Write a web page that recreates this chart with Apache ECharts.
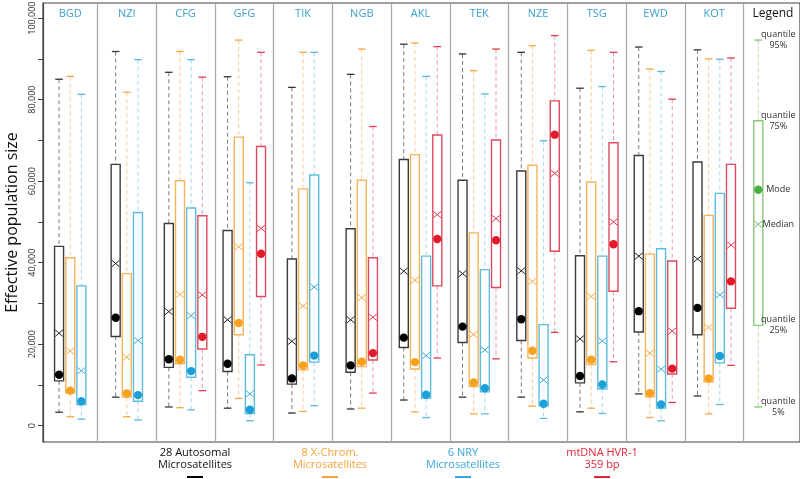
<html><head>
<meta charset="UTF-8">
<title>Effective population size</title>
<style>
  body { margin: 0; background: #fff; }
  #chart { width: 800px; height: 479px; }
</style>
</head>
<body>
<div id="chart"></div>
<script src="https://cdn.jsdelivr.net/npm/echarts@6/dist/echarts.min.js"></script>
<script>
// populations (panels)
const populations = ['BGD', 'NZI', 'CFG', 'GFG', 'TIK', 'NGB', 'AKL', 'TEK', 'NZE', 'TSG', 'EWD', 'KOT'];

// each row: [quantile 5%, quantile 25%, median, mode, quantile 75%, quantile 95%]
const autosomal = [
  [3300, 11000, 22700, 12500, 44000, 85000],
  [7000, 21900, 39800, 26500, 64100, 91800],
  [4600, 14300, 28000, 16300, 49600, 86700],
  [4300, 13300, 26000, 15200, 47900, 85600],
  [3100, 10200, 20700, 11600, 40900, 83000],
  [4100, 13100, 26000, 14800, 48300, 86200],
  [6300, 19200, 37900, 21600, 65300, 93600],
  [7000, 20400, 37300, 24300, 60200, 91200],
  [7000, 20900, 38000, 26100, 62500, 91600],
  [3400, 10500, 21300, 12200, 41700, 82800],
  [7800, 23000, 41600, 28100, 66300, 92900],
  [7300, 22300, 40900, 28900, 64700, 92200]
];
const xChrom = [
  [2200, 8000, 18300, 8600, 41200, 85700],
  [2200, 7000, 16800, 7900, 37300, 81800],
  [4400, 15200, 32200, 16200, 60100, 91800],
  [6700, 22300, 43900, 25200, 70800, 94600],
  [3500, 13700, 29400, 14800, 58100, 91600],
  [4300, 14500, 31400, 15700, 60200, 92400],
  [3400, 13900, 35700, 15600, 66500, 93900],
  [2900, 9600, 22400, 10600, 47300, 87100],
  [4800, 16600, 35400, 18400, 63900, 93200],
  [4300, 15000, 31700, 16200, 59800, 92100],
  [2000, 7100, 17800, 8000, 42100, 87500],
  [2900, 10700, 24100, 11600, 51600, 90000]
];
const nry = [
  [1600, 5200, 13500, 6000, 34300, 81300],
  [1400, 6000, 20900, 7500, 52300, 89800],
  [3900, 11900, 27000, 13400, 53400, 89800],
  [1200, 3000, 7800, 3900, 17400, 59600],
  [4900, 15600, 34000, 17200, 61500, 91600],
  null,
  [2000, 6800, 17200, 7600, 41600, 85700],
  [2900, 8300, 18600, 9200, 38300, 81400],
  [1800, 4900, 11200, 5400, 24800, 69900],
  [3000, 9000, 20800, 10100, 41600, 83200],
  [1200, 4300, 13900, 5200, 43400, 86900],
  [5200, 15400, 32100, 17100, 57000, 89900]
];
const mtdna = [
  null,
  null,
  [8600, 18800, 32100, 21800, 51500, 85500],
  [14900, 31700, 48400, 42200, 68500, 91600],
  null,
  [8000, 16100, 26600, 17800, 41200, 73400],
  [16600, 34300, 51800, 45800, 71300, 93000],
  [16400, 33900, 50800, 45500, 70100, 92400],
  [22900, 42800, 61900, 71400, 79700, 95700],
  [15700, 33000, 50000, 44500, 69400, 91600],
  [5700, 12700, 23200, 14000, 40400, 80100],
  [14800, 28800, 44300, 35400, 64100, 90200]
];
// legend panel example box
const legendBox = [4600, 24600, 49400, 57900, 74800, 94600];
const legendLabels = ['quantile\n5%', 'quantile\n25%', 'Median', 'Mode', 'quantile\n75%', 'quantile\n95%'];

const yTicks = [0, 10000, 20000, 30000, 40000, 50000, 60000, 70000, 80000, 90000, 100000];
const yLabels = [0, 20000, 40000, 60000, 80000, 100000];

const markers = [
  { name: '28 Autosomal\nMicrosatellites', rows: autosomal, box: '#3c3c3c', whisker: '#7a7a7a', cap: '#333', dot: '#000', cross: '#222', text: '#111', line: '#000' },
  { name: '8 X-Chrom.\nMicrosatellites', rows: xChrom, box: '#f6b45c', whisker: '#f8cc92', cap: '#f5a848', dot: '#f7a11e', cross: '#f5a640', text: '#f5a23a', line: '#f5a23a' },
  { name: '6 NRY\nMicrosatellites', rows: nry, box: '#5cbce0', whisker: '#a2d7ec', cap: '#5ab7dd', dot: '#1d9fd8', cross: '#3aa8d8', text: '#3aa5d6', line: '#3aa5d6' },
  { name: 'mtDNA HVR-1\n359 bp', rows: mtdna, box: '#dc4b5d', whisker: '#eb97a2', cap: '#da3c50', dot: '#e11b2c', cross: '#de3448', text: '#e0253a', line: '#e0253a' }
];
const legendStyle = { box: '#8cc97a', whisker: '#b8dead', cap: '#7cc06a', dot: '#4caf43', cross: '#6db85c' };

const X_MIN = 0.073, X_MAX = 12.96;

function panelCenter(k) {
  return (Math.max(k, X_MIN) + k + 1) / 2;
}

// place each present marker side by side inside its panel
const seriesData = markers.map(() => []);
populations.forEach((p, k) => {
  const present = markers.map((m, i) => m.rows[k] ? i : -1).filter(i => i >= 0);
  present.forEach((mi, j) => {
    const x = panelCenter(k) + (j - (present.length - 1) / 2) * 0.19;
    seriesData[mi].push([x].concat(markers[mi].rows[k]));
  });
});

function makeRender(st, withLabels) {
  return function (params, api) {
    const x = api.value(0);
    const pt = i => api.coord([x, api.value(i)]);
    const p5 = pt(1), q25 = pt(2), med = pt(3), mode = pt(4), q75 = pt(5), p95 = pt(6);
    const cx = p5[0];
    const bw = 4.5, cw = 3.8, xs = 3.8;
    const dash = { stroke: st.whisker, lineWidth: 1, lineDash: [4, 3] };
    const children = [
      { type: 'line', shape: { x1: cx, y1: p95[1], x2: cx, y2: q75[1] }, style: dash },
      { type: 'line', shape: { x1: cx, y1: q25[1], x2: cx, y2: p5[1] }, style: dash },
      { type: 'line', shape: { x1: cx - cw, y1: p95[1], x2: cx + cw, y2: p95[1] }, style: { stroke: st.cap, lineWidth: 1.3 } },
      { type: 'line', shape: { x1: cx - cw, y1: p5[1], x2: cx + cw, y2: p5[1] }, style: { stroke: st.cap, lineWidth: 1.3 } },
      { type: 'rect', shape: { x: cx - bw, y: q75[1], width: bw * 2, height: q25[1] - q75[1] }, style: { fill: null, stroke: st.box, lineWidth: 1.4 } },
      { type: 'line', shape: { x1: cx - xs, y1: med[1] - xs * 0.85, x2: cx + xs, y2: med[1] + xs * 0.85 }, style: { stroke: st.cross, lineWidth: 1 } },
      { type: 'line', shape: { x1: cx - xs, y1: med[1] + xs * 0.85, x2: cx + xs, y2: med[1] - xs * 0.85 }, style: { stroke: st.cross, lineWidth: 1 } },
      { type: 'circle', shape: { cx: cx, cy: mode[1], r: 4.2 }, style: { fill: st.dot } }
    ];
    if (withLabels) {
      [p5, q25, med, mode, q75, p95].forEach((c, i) => {
        children.push({
          type: 'text',
          x: cx + 20, y: c[1],
          style: { text: legendLabels[i], fill: '#333', font: '9px "Open Sans", sans-serif', align: 'center', verticalAlign: 'middle', lineHeight: 11 }
        });
      });
    }
    return { type: 'group', children: children };
  };
}

const series = markers.map((m, i) => ({
  type: 'custom',
  name: m.name,
  data: seriesData[i],
  encode: { x: 0, y: [1, 2, 3, 4, 5, 6] },
  renderItem: makeRender(m, false),
  clip: false
}));
series.push({
  type: 'custom',
  name: 'Legend',
  data: [[panelCenter(12) - 0.25].concat(legendBox)],
  encode: { x: 0, y: [1, 2, 3, 4, 5, 6] },
  renderItem: makeRender(legendStyle, true),
  clip: false
});

const chart = echarts.init(document.getElementById('chart'));
chart.setOption({
  animation: false,
  backgroundColor: '#fff',
  grid: { left: 43, right: 0, top: 3, bottom: 37, show: true, borderColor: '#444', borderWidth: 1.2, containLabel: false, outerBoundsMode: 'none' },
  xAxis: {
    type: 'value',
    position: 'top',
    min: X_MIN,
    max: X_MAX,
    axisLine: { show: false },
    axisTick: { show: false, customValues: [1, 2, 3, 4, 5, 6, 7, 8, 9, 10, 11, 12] },
    splitLine: { show: true, lineStyle: { color: '#aaa', width: 1.3 } },
    axisLabel: {
      inside: true,
      margin: 5,
      customValues: populations.map((p, k) => panelCenter(k)).concat([panelCenter(12)]),
      formatter: v => {
        const k = Math.floor(v);
        return k < populations.length ? populations[k] : '{leg|Legend}';
      },
      color: '#3aa0cf',
      fontSize: 11,
      fontFamily: '"Open Sans", sans-serif',
      rich: { leg: { color: '#111', fontSize: 12, fontFamily: '"Open Sans", sans-serif' } }
    }
  },
  yAxis: {
    type: 'value',
    min: -4000,
    max: 103700,
    name: 'Effective population size',
    nameLocation: 'middle',
    nameGap: 23,
    nameRotate: 90,
    nameTextStyle: { fontSize: 16, color: '#111', fontFamily: '"Open Sans", sans-serif' },
    axisLine: { show: true, lineStyle: { color: '#444', width: 1.2 } },
    axisTick: { show: true, length: 5, customValues: yTicks, lineStyle: { color: '#444' } },
    splitLine: { show: false },
    axisLabel: {
      customValues: yLabels,
      rotate: 90,
      margin: 6,
      fontSize: 9,
      color: '#333',
      fontFamily: '"Open Sans", sans-serif',
      formatter: v => v.toString().replace(/\B(?=(\d{3})+(?!\d))/g, ',')
    }
  },
  graphic: markers.map((m, i) => {
    const cx = [195, 330, 463, 602][i];
    return {
      type: 'group',
      children: [
        { type: 'text', x: cx, y: 447, style: { text: m.name, fill: m.text, font: '11px "Open Sans", sans-serif', align: 'center', verticalAlign: 'top', lineHeight: 12 } },
        { type: 'line', shape: { x1: cx - 8, y1: 477, x2: cx + 8, y2: 477 }, style: { stroke: m.line, lineWidth: 2 } }
      ]
    };
  }),
  series: series
});
</script>
</body>
</html>
